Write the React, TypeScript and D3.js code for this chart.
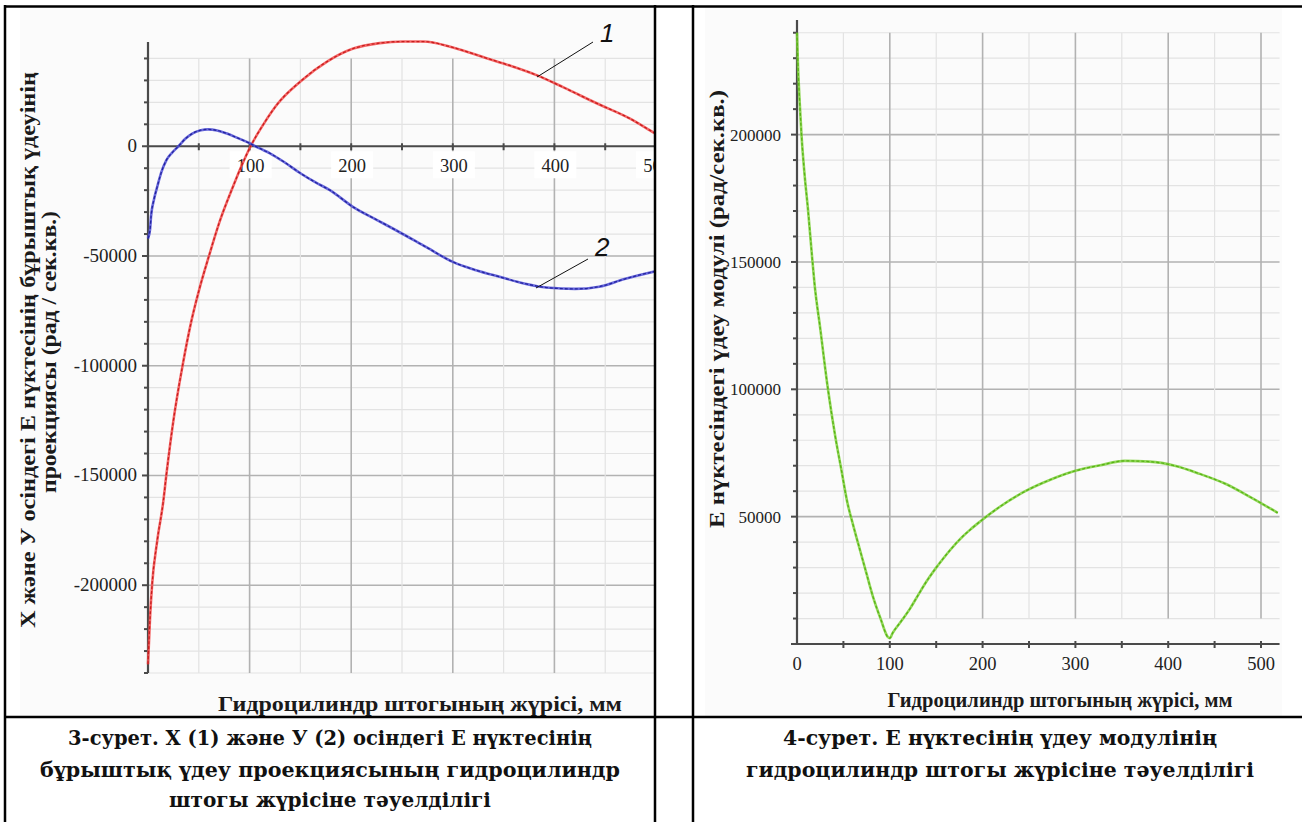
import { useEffect, useRef } from "react";
import * as d3 from "d3";

// stroke of the hydraulic cylinder rod, mm
const strokeTicks = [0, 100, 200, 300, 400, 500];

// curve 1: X projection of angular acceleration of point E
const xProjStroke = [0, 2, 4, 9, 15, 18, 25, 34, 43, 50, 60, 70, 84, 92, 101, 115, 127, 150, 177, 202, 228, 251, 271, 300, 334, 356, 383, 409, 442, 474, 499, 520];
const xProjValue = [-236000, -215000, -200000, -180000, -162000, -150000, -125000, -100000, -79000, -66000, -50000, -35000, -18000, -9000, 0, 11000, 19000, 29500, 38800, 44500, 47000, 47700, 47700, 45000, 40000, 36800, 32300, 26800, 19500, 12700, 5900, 500];

// curve 2: Y projection
const yProjStroke = [0, 2, 3, 6, 9, 13, 18, 24, 30, 37, 44, 52, 59, 68, 77, 88, 100, 110, 120, 135, 150, 165, 179, 202, 225, 245, 274, 300, 323, 346, 370, 395, 420, 444, 469, 499, 520];
const yProjValue = [-42000, -38000, -32000, -24000, -18600, -12000, -6400, -2800, 0, 3500, 5900, 7300, 7700, 7200, 5900, 3800, 1400, -1000, -3200, -7500, -12300, -16500, -20000, -27700, -33500, -38500, -46000, -52700, -56500, -59500, -62500, -64500, -65000, -64000, -60500, -57000, -55000];

// modulus of acceleration of point E
const modStroke = [0, 1, 3, 5, 8, 12, 16, 19, 25, 33, 41, 48, 54, 61, 68, 75, 82, 90, 98, 100, 103, 112, 122, 131, 140, 149, 157, 166, 176, 187, 197, 219, 246, 273, 300, 327, 353, 380, 407, 434, 461, 488, 518];
const modValue = [240000, 228000, 212000, 199000, 185000, 170000, 153000, 141000, 124000, 101000, 82000, 68000, 56000, 46000, 36700, 27500, 18400, 10000, 2700, 2300, 4300, 8800, 14000, 19500, 24800, 29500, 33300, 37300, 41300, 45000, 48000, 54000, 60000, 64500, 68000, 70200, 71900, 71600, 70000, 66800, 63000, 57800, 51500];

const leftYTicks = [0, -50000, -100000, -150000, -200000];
const rightYTicks = [50000, 100000, 150000, 200000];

const leftYTitle = ["Х және У осіндегі Е нүктесінің бұрыштық үдеуінің", "проекциясы (рад / сек.кв.)"];
const rightYTitle = "Е нүктесіндегі үдеу модулі (рад/сек.кв.)";
const xTitle = "Гидроцилиндр штогының жүрісі, мм";
const leftCaption = ["3-сурет. Х (1) және У (2) осіндегі Е нүктесінің", "бұрыштық үдеу проекциясының гидроцилиндр", "штогы жүрісіне тәуелділігі"];
const rightCaption = ["4-сурет. Е нүктесінің үдеу модулінің", "гидроцилиндр штогы жүрісіне тәуелділігі"];

const SERIF = "Liberation Serif, Times New Roman, DejaVu Serif, serif";

function drawGrid(g: any, x: any, y: any, xMax: number, yMin: number, yMax: number) {
  const xs = d3.range(50, xMax + 1, 50);
  const ys = d3.range(yMin, yMax + 1, 10000).filter((v) => v !== 0);
  g.selectAll(".hgrid")
    .data(ys)
    .enter()
    .append("line")
    .attr("x1", x(0))
    .attr("x2", x(520))
    .attr("y1", (d: number) => y(d))
    .attr("y2", (d: number) => y(d))
    .attr("stroke", (d: number) => (d % 50000 === 0 ? "#b2b2b2" : "#e3e3e3"))
    .attr("stroke-width", (d: number) => (d % 50000 === 0 ? 1.6 : 1.2));
  g.selectAll(".vgrid")
    .data(xs)
    .enter()
    .append("line")
    .attr("x1", (d: number) => x(d))
    .attr("x2", (d: number) => x(d))
    .attr("y1", y(yMax))
    .attr("y2", y(yMin))
    .attr("stroke", (d: number) => (d % 100 === 0 ? "#b2b2b2" : "#e3e3e3"))
    .attr("stroke-width", (d: number) => (d % 100 === 0 ? 1.6 : 1.2));
}

function drawAxes(g: any, x: any, y: any, xAxisY: number, yMin: number, yMax: number) {
  const axisColor = "#4a4a4a";
  g.append("line")
    .attr("x1", x(0))
    .attr("x2", x(520))
    .attr("y1", xAxisY)
    .attr("y2", xAxisY)
    .attr("stroke", axisColor)
    .attr("stroke-width", 2);
  g.append("line")
    .attr("x1", x(0))
    .attr("x2", x(0))
    .attr("y1", y(yMax))
    .attr("y2", y(yMin))
    .attr("stroke", axisColor)
    .attr("stroke-width", 2.2);
  g.selectAll(".ytick")
    .data(d3.range(yMin, yMax + 1, 10000))
    .enter()
    .append("line")
    .attr("x1", (d: number) => x(0) - (d % 50000 === 0 ? 6 : 4))
    .attr("x2", x(0))
    .attr("y1", (d: number) => y(d))
    .attr("y2", (d: number) => y(d))
    .attr("stroke", axisColor)
    .attr("stroke-width", 2);
  g.selectAll(".xtick")
    .data(d3.range(50, 501, 50))
    .enter()
    .append("line")
    .attr("x1", (d: number) => x(d))
    .attr("x2", (d: number) => x(d))
    .attr("y1", xAxisY - 3)
    .attr("y2", xAxisY + 4)
    .attr("stroke", axisColor)
    .attr("stroke-width", 2);
}

function drawCurve(g: any, x: any, y: any, xs: number[], vs: number[], base: string, dark: string) {
  const pts = xs.map((d, i) => [d, vs[i]] as [number, number]);
  const line = d3
    .line<[number, number]>()
    .x((d) => x(d[0]))
    .y((d) => y(d[1]))
    .curve(d3.curveMonotoneX);
  g.append("path").attr("d", line(pts)).attr("fill", "none").attr("stroke", base).attr("stroke-width", 2.6).attr("opacity", 0.85);
  g.append("path")
    .attr("d", line(pts))
    .attr("fill", "none")
    .attr("stroke", dark)
    .attr("stroke-width", 1.3)
    .attr("stroke-dasharray", "3 2");
}

function label(g: any, x: number, y: number, txt: string | number, size: number, anchor: string) {
  return g
    .append("text")
    .attr("x", x)
    .attr("y", y)
    .attr("text-anchor", anchor)
    .style("font-family", SERIF)
    .style("font-size", `${size}px`)
    .attr("fill", "#222")
    .text(txt);
}

function App() {
  const ref = useRef<SVGSVGElement>(null);

  useEffect(() => {
    const svg = d3.select(ref.current);
    svg.selectAll("*").remove();
    const W = 1302;
    const H = 822;

    svg.append("rect").attr("width", W).attr("height", H).attr("fill", "#fff");
    svg.append("rect").attr("x", 20).attr("y", 8).attr("width", 635).attr("height", 708).attr("fill", "#fbfbfb");
    svg.append("rect").attr("x", 705).attr("y", 8).attr("width", 577).attr("height", 708).attr("fill", "#fbfbfb");

    svg
      .append("defs")
      .append("clipPath")
      .attr("id", "leftClip")
      .append("rect")
      .attr("x", 0)
      .attr("y", 0)
      .attr("width", 654)
      .attr("height", H);

    // ---- left chart ----
    const xL = d3.scaleLinear().domain([0, 500]).range([148, 656]);
    const yL = d3.scaleLinear().domain([-240000, 47500]).range([673, 42]);
    const gL = svg.append("g").attr("clip-path", "url(#leftClip)");
    drawGrid(gL, xL, yL, 500, -240000, 40000);
    drawAxes(gL, xL, yL, yL(0), -240000, 47500);
    // tick labels on white patches
    strokeTicks
      .filter((d) => d > 0)
      .forEach((d) => {
        gL.append("rect")
          .attr("x", xL(d) - 20)
          .attr("y", yL(0) + 5)
          .attr("width", 42)
          .attr("height", 27)
          .attr("fill", "#fff");
        label(gL, xL(d) + 1, yL(0) + 26, d, 18.5, "middle");
      });
    leftYTicks.forEach((d) => {
      label(gL, 137, yL(d) + 6, d, 19, "end");
    });
    drawCurve(gL, xL, yL, xProjStroke, xProjValue, "#f24b4b", "#c81e1e");
    drawCurve(gL, xL, yL, yProjStroke, yProjValue, "#4d4dd6", "#24249e");

    // curve labels
    gL.append("line").attr("x1", 593).attr("y1", 42).attr("x2", 537).attr("y2", 77).attr("stroke", "#111").attr("stroke-width", 1);
    gL.append("text")
      .attr("x", 600)
      .attr("y", 42)
      .style("font-family", "Liberation Sans, Arial, sans-serif")
      .attr("font-style", "italic")
      .attr("font-size", 26)
      .attr("fill", "#111")
      .text("1");
    gL.append("line").attr("x1", 588).attr("y1", 259).attr("x2", 536).attr("y2", 288).attr("stroke", "#111").attr("stroke-width", 1);
    gL.append("text")
      .attr("x", 595)
      .attr("y", 256)
      .style("font-family", "Liberation Sans, Arial, sans-serif")
      .attr("font-style", "italic")
      .attr("font-size", 26)
      .attr("fill", "#111")
      .text("2");

    leftYTitle.forEach((t, i) => {
      const bx = [35, 56][i];
      const len = [556, 282][i];
      gL.append("text")
        .attr("transform", `translate(${bx},${[350, 352][i]}) rotate(-90)`)
        .attr("text-anchor", "middle")
        .style("font-family", SERIF)
        .style("font-weight", "bold")
        .style("font-size", "22px")
        .attr("fill", "#1a1a1a")
        .attr("textLength", len)
        .attr("lengthAdjust", "spacingAndGlyphs")
        .text(t);
    });
    gL.append("text")
      .attr("x", 420)
      .attr("y", 711)
      .attr("text-anchor", "middle")
      .style("font-family", SERIF)
      .style("font-weight", "bold")
      .style("font-size", "22px")
      .attr("fill", "#1a1a1a")
      .attr("textLength", 404)
      .attr("lengthAdjust", "spacingAndGlyphs")
      .text(xTitle);

    // ---- right chart ----
    const xR = d3.scaleLinear().domain([0, 500]).range([797, 1261]);
    const yR = d3.scaleLinear().domain([0, 245000]).range([644, 20]);
    const gR = svg.append("g");
    drawGrid(gR, xR, yR, 500, 10000, 240000);
    drawAxes(gR, xR, yR, yR(0), 0, 245000);
    strokeTicks.forEach((d) => {
      label(gR, xR(d), 670, d, 18.5, "middle");
    });
    rightYTicks.forEach((d) => {
      label(gR, 781, yR(d) + 6, d, 17, "end");
    });
    drawCurve(gR, xR, yR, modStroke, modValue, "#7fd03c", "#58b416");
    gR.append("text")
      .attr("transform", `translate(724,309) rotate(-90)`)
      .attr("text-anchor", "middle")
      .style("font-family", SERIF)
      .style("font-weight", "bold")
      .style("font-size", "20px")
      .attr("fill", "#1a1a1a")
      .attr("textLength", 438)
      .attr("lengthAdjust", "spacingAndGlyphs")
      .text(rightYTitle);
    gR.append("text")
      .attr("x", 1060)
      .attr("y", 707)
      .attr("text-anchor", "middle")
      .style("font-family", SERIF)
      .style("font-weight", "bold")
      .style("font-size", "20px")
      .attr("fill", "#1a1a1a")
      .attr("textLength", 345)
      .attr("lengthAdjust", "spacingAndGlyphs")
      .text(xTitle);

    // ---- table frame ----
    const frame = svg.append("g").attr("stroke", "#000").attr("stroke-width", 2.5);
    frame.append("line").attr("x1", 4).attr("x2", W).attr("y1", 6.5).attr("y2", 6.5);
    frame.append("line").attr("x1", 4).attr("x2", W).attr("y1", 717).attr("y2", 717);
    [5, 655, 693].forEach((vx) => {
      frame.append("line").attr("x1", vx).attr("x2", vx).attr("y1", 5).attr("y2", H);
    });

    // ---- captions ----
    const capFont = "DejaVu Serif, serif";
    leftCaption.forEach((t, i) => {
      svg.append("text")
        .attr("x", 330)
        .attr("y", [745, 777, 807][i])
        .attr("text-anchor", "middle")
        .style("font-family", capFont)
        .style("font-weight", "bold")
        .style("font-size", "20.5px")
        .attr("fill", "#111")
        .attr("textLength", [524, 580, 322][i])
        .attr("lengthAdjust", "spacingAndGlyphs")
        .text(t);
    });
    rightCaption.forEach((t, i) => {
      svg.append("text")
        .attr("x", 1000)
        .attr("y", [745, 777][i])
        .attr("text-anchor", "middle")
        .style("font-family", capFont)
        .style("font-weight", "bold")
        .style("font-size", "20.5px")
        .attr("fill", "#111")
        .attr("textLength", [434, 508][i])
        .attr("lengthAdjust", "spacingAndGlyphs")
        .text(t);
    });
  }, []);

  return (
    <svg
      ref={ref}
      width={1302}
      height={822}
      style={{ position: "absolute", left: 0, top: 0, display: "block" }}
    />
  );
}

export default App;
